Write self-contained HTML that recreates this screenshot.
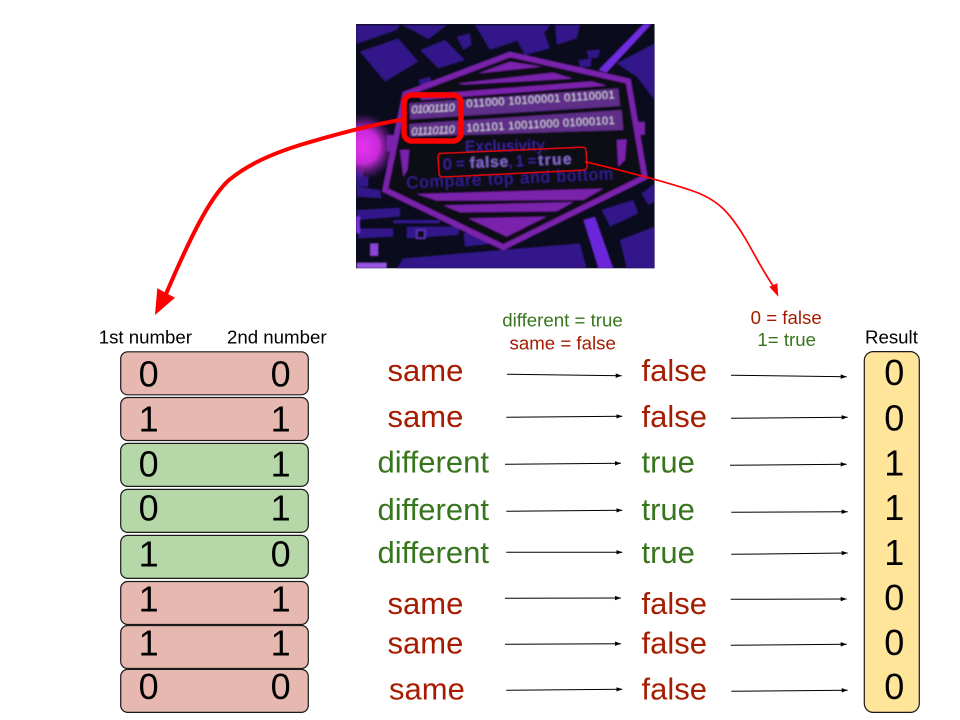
<!DOCTYPE html>
<html><head><meta charset="utf-8"><style>
html,body{margin:0;padding:0;background:#fff;width:960px;height:720px;overflow:hidden}
svg{display:block}
text{font-family:"Liberation Sans",sans-serif}
.l{font-size:18.67px;fill:#000}
.b{font-size:31px}
.r{fill:#a61c00}
.g{fill:#38761d}
.d{font-size:36px;fill:#000;text-anchor:middle}
.a{stroke:#000;stroke-width:1;fill:none;marker-end:url(#ah)}
.s{font-size:18.67px;text-anchor:middle}
.p{fill:#e6b8af;stroke:#1a1a1a;stroke-width:1.2}
.q{fill:#b6d7a8;stroke:#1a1a1a;stroke-width:1.2}
</style></head><body>
<svg width="960" height="720" viewBox="0 0 960 720" xmlns="http://www.w3.org/2000/svg">
<defs>
<marker id="ah" markerUnits="userSpaceOnUse" markerWidth="8" markerHeight="6" refX="6" refY="3" orient="auto"><path d="M0,.8L6,3L0,5.2z" fill="#000"/></marker>
<clipPath id="ic"><rect x="18" y="12" width="896" height="733"/></clipPath>
<radialGradient id="gl" cx=".5" cy=".5" r=".5"><stop offset="0" stop-color="#e733f0"/><stop offset=".5" stop-color="#c82ad8"/><stop offset="1" stop-color="#7a22a8" stop-opacity="0"/></radialGradient>
<filter id="bl" x="-5%" y="-5%" width="110%" height="110%"><feGaussianBlur stdDeviation="2.5"/></filter>
</defs>

<!-- picture -->
<g transform="translate(350,20) scale(.33333)">
<g clip-path="url(#ic)">
<rect x="18" y="12" width="896" height="733" fill="#0a0b1c"/>
<g filter="url(#bl)">
<g fill="#30178a">
<path d="M18,15H150L140,30L18,72Z"/>
<path d="M30,95L145,55L205,125L105,185Z"/>
<path d="M155,15H290L235,58L190,32Z"/>
<path d="M210,90L285,60L345,120L265,145Z"/>
<path d="M320,50L360,40L365,75L340,90Z"/>
<path d="M375,15H600L590,32L420,90Z"/>
<path d="M500,60L580,30L600,85L525,105Z"/>
<path d="M615,15H690L680,55L620,75Z"/>
<path d="M800,130L914,70V240L860,170Z"/>
<path d="M685,120L725,115L722,140L690,142Z"/>
<path d="M710,92L750,88L745,112L715,115Z"/>
<path d="M205,180L240,170L245,190L212,198Z"/>
<path d="M875,520L914,490V545L895,555Z"/>
<path d="M755,570L850,540L865,580L780,620Z"/>
<path d="M810,660L914,620V745H830Z"/>
<path d="M140,745L160,715L690,670L710,745Z"/>
<path d="M20,570L150,563L150,590L20,600Z"/>
<path d="M25,625H130V650L25,655Z"/>
<path d="M170,620H330L325,645L170,655Z"/>
<path d="M340,640L520,625L530,660L345,680Z"/>
<path d="M20,500L90,510L95,535L20,530Z"/>
<path d="M130,600H270L270,610H130Z"/>
<path d="M18,450H40V490H18Z"/>
<path d="M18,470H55V500H18Z"/>
</g>
<path d="M745,150L880,12H905L770,158Z" fill="#6f2ae0"/>
<path d="M700,600L735,590L790,745H745Z" fill="#6a28d8"/>
<path d="M18,590H30V640H18Z" fill="#7a30e0"/>
<path d="M20,728H110V745H20Z" fill="#9a55e0"/>
<path d="M60,670H85V708H60Z" fill="#8a45d8"/>
<path d="M200,630H225V655H200Z" fill="#111" stroke="#6030c0" stroke-width="5"/>
<ellipse cx="40" cy="380" rx="95" ry="100" fill="url(#gl)"/>
<path d="M480,103L835,183L885,472L460,682L105,510L165,222Z" fill="#0b0a18" stroke="#7a22ac" stroke-width="17" stroke-linejoin="miter"/>
<g fill="#7a22ac">
<path d="M385,160L480,125L575,140Z"/>
<path d="M325,190L610,158L668,176L340,194Z"/>
<path d="M205,225L725,184L770,197L215,240Z"/>
<path d="M200,522L760,506L700,540L260,542Z"/>
<path d="M280,556L670,546L620,574L330,577Z"/>
<path d="M355,595L590,590L470,650Z"/>
<path d="M110,345L140,345L135,395L110,395Z"/>
<path d="M800,360L830,358L825,420L805,440Z"/>
<path d="M150,390H178L172,450L160,470Z"/>
<path d="M860,305H885V345H860Z"/>
</g>
<path d="M178,250L805,205L810,258L180,298Z" fill="#5f2d88"/>
<path d="M178,312L815,270L820,330L180,350Z" fill="#5f2d88"/>
<g fill="#d8d2e0" font-size="33" font-style="italic">
<text transform="translate(185,280) rotate(-3)" textLength="130">01001110</text>
<text transform="translate(185,346) rotate(-3)" textLength="130">01110110</text>
</g>
<g fill="#d8d2e0" font-size="33">
<text transform="translate(350,262) rotate(-3.5)" textLength="445">011000 10100001 01110001</text>
<text transform="translate(350,335) rotate(-3)" textLength="445">101101 10011000 01000101</text>
</g>
<text transform="translate(345,395) rotate(-1)" fill="#4526a8" font-size="46" textLength="250">Exclusivity.</text>
<text transform="translate(280,448) rotate(-2.5)" fill="#4526a8" font-size="46">0 = </text>
<text transform="translate(360,444) rotate(-2.5)" fill="#8068c8" font-size="46" font-weight="bold" textLength="115">false</text>
<text transform="translate(475,440) rotate(-2.5)" fill="#4526a8" font-size="46" textLength="85">, 1 =</text>
<text transform="translate(565,436) rotate(-2.5)" fill="#8068c8" font-size="46" font-weight="bold" textLength="100">true</text>
<text transform="translate(170,505) rotate(-2.5)" fill="#38209a" font-size="50" textLength="620">Compare top and bottom</text>
</g>
</g>
</g>

<!-- callouts -->
<rect x="404" y="95" width="57" height="46" rx="8" fill="none" stroke="#f00" stroke-width="5.5"/>
<path d="M438.5,156.5L582,150.2Q586,150 586,154L587,169Q587,173 583,173.2L443,180Q439,180 439,176L438,160Q438,156.5 441.5,156.4Z" transform="translate(0,-3)" fill="none" stroke="#d8080c" stroke-width="1.6"/>
<path d="M403,119.5C370,125 330,136 300,145C265,156 245,167 229,180C210,197 190,238 166,294" fill="none" stroke="#f00" stroke-width="4"/>
<path d="M155,315L157.3,288.3L175,297.7Z" fill="#f00"/>
<path d="M585,161.7C620,170 660,180 690,190C718,199 730,213 745,238C755,255 765,275 774,287" fill="none" stroke="#f00" stroke-width="1.7"/>
<path d="M778.3,296.7L769.3,286.7L777.3,283.3Z" fill="#f00"/>

<!-- labels -->
<text class="l" x="98.7" y="343.3">1st number</text>
<text class="l" x="227" y="343.3">2nd number</text>
<text class="l" x="865" y="343.3">Result</text>
<text class="s g" x="562.5" y="326.7">different = true</text>
<text class="s r" x="562.7" y="349.3">same = false</text>
<text class="s r" x="786.2" y="324">0 = false</text>
<text class="s g" x="786.7" y="346">1= true</text>

<!-- rows -->
<rect class="p" x="120.7" y="351.8" width="187.6" height="43" rx="7"/>
<rect class="p" x="120.7" y="397.5" width="187.6" height="43" rx="7"/>
<rect class="q" x="120.7" y="443.4" width="187.6" height="43" rx="7"/>
<rect class="q" x="120.7" y="489.4" width="187.6" height="43" rx="7"/>
<rect class="q" x="120.7" y="535.4" width="187.6" height="43" rx="7"/>
<rect class="p" x="120.7" y="581.5" width="187.6" height="43" rx="7"/>
<rect class="p" x="120.7" y="625.5" width="187.6" height="43" rx="7"/>
<rect class="p" x="120.7" y="669.4" width="187.6" height="43" rx="7"/>
<rect x="864.3" y="351.6" width="55" height="360.8" rx="9" fill="#ffe599" stroke="#1a1a1a" stroke-width="1.2"/>

<text class="d" x="148.7" y="386.5">0</text><text class="d" x="280.7" y="386.5">0</text>
<text class="d" x="148.7" y="431.7">1</text><text class="d" x="280.7" y="431.7">1</text>
<text class="d" x="148.7" y="476.7">0</text><text class="d" x="280.7" y="476.7">1</text>
<text class="d" x="148.7" y="520.7">0</text><text class="d" x="280.7" y="520.7">1</text>
<text class="d" x="148.7" y="566.7">1</text><text class="d" x="280.7" y="566.7">0</text>
<text class="d" x="148.7" y="611.7">1</text><text class="d" x="280.7" y="611.7">1</text>
<text class="d" x="148.7" y="655.7">1</text><text class="d" x="280.7" y="655.7">1</text>
<text class="d" x="148.7" y="699">0</text><text class="d" x="280.7" y="699">0</text>

<text class="d" x="894.3" y="385">0</text>
<text class="d" x="894.3" y="430.7">0</text>
<text class="d" x="894.3" y="475.7">1</text>
<text class="d" x="894.3" y="520">1</text>
<text class="d" x="894.3" y="565">1</text>
<text class="d" x="894.3" y="610">0</text>
<text class="d" x="894.3" y="655">0</text>
<text class="d" x="894.3" y="699">0</text>

<!-- words -->
<text class="b r" x="387.5" y="381">same</text>
<text class="b r" x="387.5" y="427">same</text>
<text class="b g" x="377.5" y="472.5">different</text>
<text class="b g" x="377.5" y="520">different</text>
<text class="b g" x="377.5" y="563">different</text>
<text class="b r" x="387.5" y="614">same</text>
<text class="b r" x="387.5" y="653.5">same</text>
<text class="b r" x="389" y="699.5">same</text>

<text class="b r" x="641.5" y="381">false</text>
<text class="b r" x="641.5" y="427">false</text>
<text class="b g" x="641.5" y="472.5">true</text>
<text class="b g" x="641.5" y="520">true</text>
<text class="b g" x="641.5" y="563">true</text>
<text class="b r" x="641.5" y="614">false</text>
<text class="b r" x="641.5" y="653.5">false</text>
<text class="b r" x="641.5" y="699.5">false</text>

<!-- arrows -->
<path class="a" d="M507,374.3L621.7,375.7"/>
<path class="a" d="M506.3,417.3L622.3,416.3"/>
<path class="a" d="M505,464.3L621,463.3"/>
<path class="a" d="M506.3,511.3L622.3,510.3"/>
<path class="a" d="M506.3,552.3L622.3,552.3"/>
<path class="a" d="M505,598.3L621,598"/>
<path class="a" d="M505,644.3L621,643.7"/>
<path class="a" d="M506.3,690.3L622.3,689.3"/>

<path class="a" d="M731,375.3L846.7,376.7"/>
<path class="a" d="M731,418.3L847.7,417.3"/>
<path class="a" d="M730,465.3L846.7,464.3"/>
<path class="a" d="M731.3,512.3L847.7,511.7"/>
<path class="a" d="M731.3,554.3L847.7,553"/>
<path class="a" d="M730.7,599.3L846.7,599"/>
<path class="a" d="M730.7,645.3L846.7,644.3"/>
<path class="a" d="M731.3,691.3L847.7,690.3"/>
</svg>
</body></html>
